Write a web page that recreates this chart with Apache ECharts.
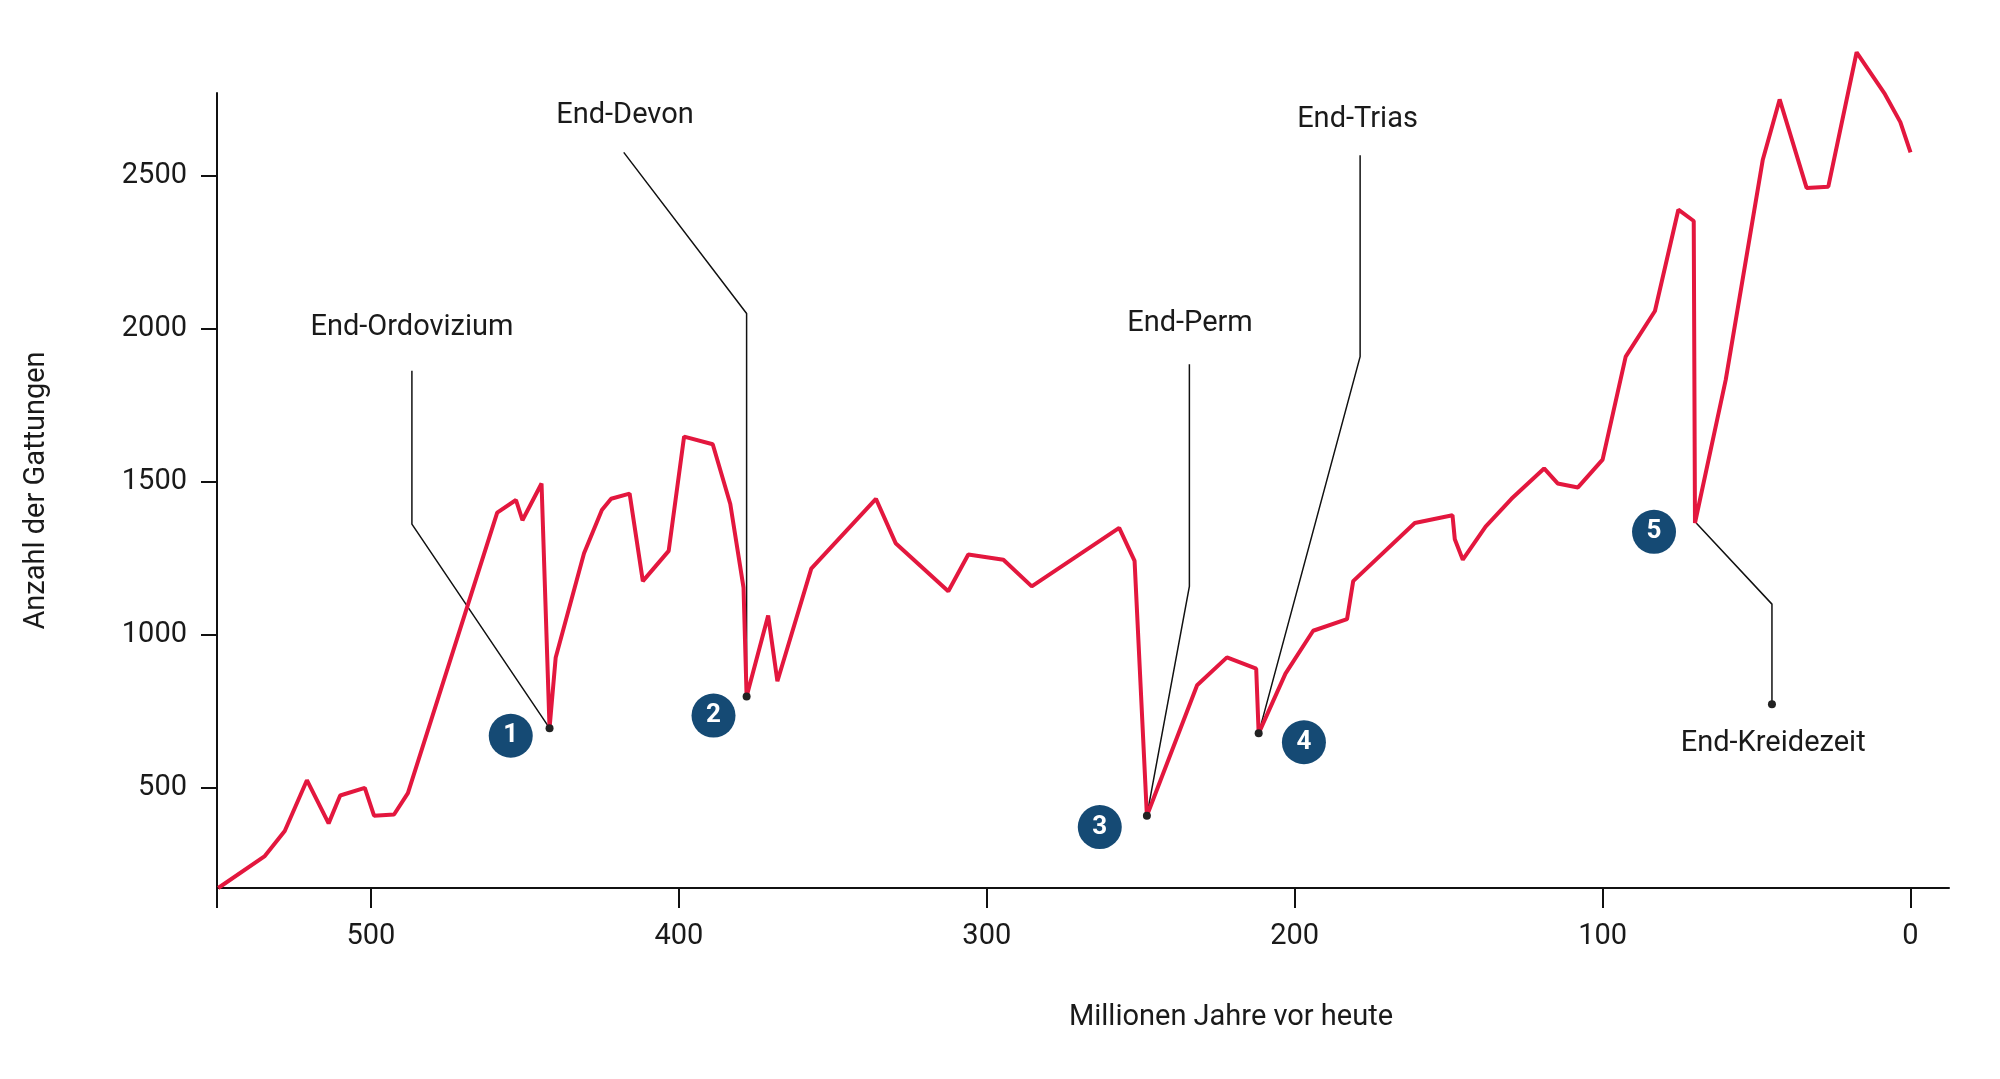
<!DOCTYPE html>
<html>
<head>
<meta charset="utf-8">
<script src="https://cdn.jsdelivr.net/npm/echarts@6/dist/echarts.min.js"></script>
<style>html,body{margin:0;background:#fff}#main{width:2000px;height:1079px}</style>
</head>
<body>
<div id="main"></div>
<script>
// Gattungen über die Zeit (Mio. Jahre, Anzahl)
var genera = [
  [549.6,173],[534.6,276],[528,359],[520.8,525],[513.75,384],[510,475],[502,500],[499,409],
  [492.5,413],[488,483],[459,1399],[452.9,1440],[450.8,1374],[444.6,1494],[442,695],[440,926],
  [430.8,1266],[425,1407],[422,1444],[416,1461],[411.7,1175],[403.3,1274],[398.3,1647],[389,1622],
  [383.3,1427],[379,1154],[378,798],[371,1063],[368,848],[357,1216],[336,1444],[329.6,1299],
  [312.5,1142],[306,1262],[294.6,1245],[285.4,1158],[257,1349],[252,1241],[248,409],[231.7,835],
  [222,926],[212.5,889],[211.7,678],[203,873],[194,1013],[183,1051],[181,1175],[161,1365],
  [148.75,1390],[148,1312],[145.4,1245],[138,1353],[129.6,1444],[119,1543],[114.6,1494],[108,1481],
  [100,1572],[92.5,1908],[83,2057],[75.4,2388],[70.4,2351],[70,1365],[60,1833],[48,2550],
  [42.5,2748],[33.75,2459],[26.7,2463],[17.5,2902],[8.3,2765],[3.3,2674],[0,2575]
];
var xTicks = [0,100,200,300,400,500];
var yTicks = [500,1000,1500,2000,2500];

var eventNames = ['End-Ordovizium','End-Devon','End-Perm','End-Trias','End-Kreidezeit'];
var eventLabelPos = [[486.7,2003],[417.5,2695],[234,2015],[179.6,2682],[44.6,645]];
var eventLeaders = [
  [[486.7,1862],[486.7,1361],[442,695]],
  [[417.9,2575],[378,2049],[378,798]],
  [[234.2,1883],[234.2,1158],[248,409]],
  [[178.75,2566],[178.75,1908],[211.7,678]],
  [[69.6,1365],[45,1100],[45,773]]
];
var eventBadges = [[454.6,670],[388.75,736],[263.3,372],[197,649],[83.3,1336]];

var font = 'Roboto';
var series = [];
eventLeaders.forEach(function(pts){
  series.push({type:'line', data:pts, symbol:'none', silent:true, z:1,
    lineStyle:{color:'#111', width:1.5}});
});
series.push({type:'line', data:genera, symbol:'none', clip:false, z:3,
  lineStyle:{color:'#e3173e', width:4}});
series.push({type:'scatter', data:eventLeaders.map(function(p){return p[2];}), symbolSize:8, z:4,
  itemStyle:{color:'#222', opacity:1}});
series.push({type:'scatter', data:eventBadges, symbolSize:44, z:5,
  itemStyle:{color:'#154a74', opacity:1},
  label:{show:true, position:'inside', color:'#fff', fontFamily:font, fontSize:26, fontWeight:'bold',
    formatter:function(p){return String(p.dataIndex+1);}}});
series.push({type:'scatter', data:eventLabelPos, symbolSize:0, z:5,
  itemStyle:{opacity:1},
  label:{show:true, position:'inside', color:'#1a1a1a', fontFamily:font, fontSize:29,
    formatter:function(p){return eventNames[p.dataIndex];}}});

var chart = echarts.init(document.getElementById('main'));
chart.setOption({
  backgroundColor:'#fff',
  animation:false,
  grid:{left:217, right:51, top:93, bottom:191},
  xAxis:{type:'value', inverse:true, min:-12.5, max:550,
    name:'Millionen Jahre vor heute', nameLocation:'middle', nameGap:115,
    nameTextStyle:{fontFamily:font, fontSize:29, color:'#1a1a1a', padding:[0,0,0,296]},
    axisLine:{onZero:false, lineStyle:{color:'#111', width:2}},
    axisTick:{show:true, length:20, customValues:xTicks.concat([550]), lineStyle:{color:'#111', width:2}},
    axisLabel:{customValues:xTicks, fontFamily:font, fontSize:29, color:'#1a1a1a', margin:34},
    splitLine:{show:false}},
  yAxis:{type:'value', position:'left', min:173, max:2769,
    name:'Anzahl der Gattungen', nameLocation:'middle', nameGap:166,
    nameTextStyle:{fontFamily:font, fontSize:29, color:'#1a1a1a'},
    axisLine:{show:true, onZero:false, lineStyle:{color:'#111', width:2}},
    axisTick:{show:true, length:16, customValues:yTicks, lineStyle:{color:'#111', width:2}},
    axisLabel:{customValues:yTicks, fontFamily:font, fontSize:29, color:'#1a1a1a', margin:30,
      formatter:function(v){return String(v);}},
    splitLine:{show:false}},
  series:series
});
</script>
</body>
</html>
